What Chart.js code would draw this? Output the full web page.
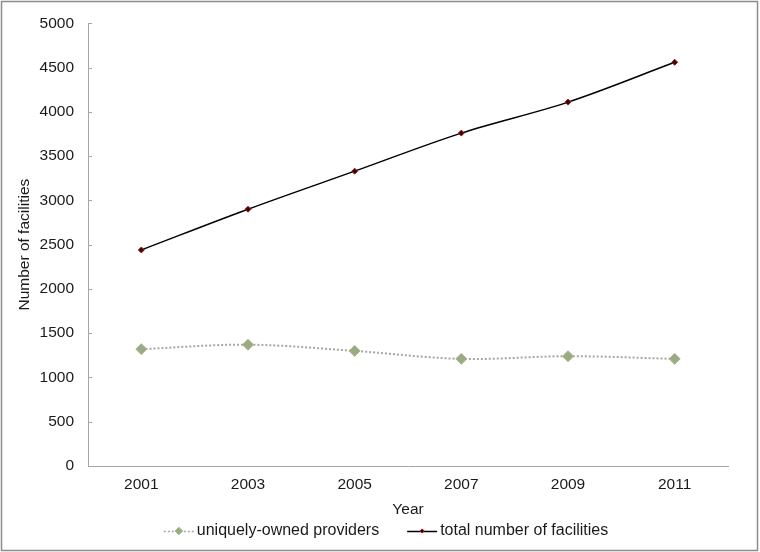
<!DOCTYPE html>
<html>
<head>
<meta charset="utf-8">
<script src="https://cdn.jsdelivr.net/npm/chart.js@4/dist/chart.umd.min.js"></script>
<style>
  html, body { margin: 0; padding: 0; background: #ffffff; }
  #wrap { width: 760px; height: 552px; position: relative; }
</style>
</head>
<body>
<div id="wrap"><canvas id="c" width="760" height="552"></canvas></div>
<script>
// ---- data ----
const years = ['2001', '2003', '2005', '2007', '2009', '2011'];
const uniquelyOwnedProviders = [1320, 1370, 1300, 1210, 1240, 1210];
const totalFacilities = [2440, 2900, 3330, 3760, 4110, 4560];
const seriesNames = ['uniquely-owned providers', 'total number of facilities'];
const xTitle = 'Year';
const yTitle = 'Number of facilities';
const yMin = 0, yMax = 5000, yStep = 500;

const FONT = '"Liberation Sans", Arial, sans-serif';
const FS = 15.5;

function diamond(ctx, x, y, r, fill, stroke, lw) {
  ctx.beginPath();
  ctx.moveTo(x, y - r);
  ctx.lineTo(x + r, y);
  ctx.lineTo(x, y + r);
  ctx.lineTo(x - r, y);
  ctx.closePath();
  ctx.fillStyle = fill;
  ctx.fill();
  if (lw) { ctx.lineWidth = lw; ctx.strokeStyle = stroke; ctx.stroke(); }
}

const decor = {
  id: 'decor',
  afterDraw(chart) {
    const ctx = chart.ctx;
    const ys = chart.scales.y;
    const area = chart.chartArea;
    ctx.save();
    // inward tick marks on the value axis
    ctx.strokeStyle = '#a6a6a6';
    ctx.lineWidth = 1;
    ys.ticks.forEach(t => {
      const py = Math.round(ys.getPixelForValue(t.value)) + 0.5;
      ctx.beginPath();
      ctx.moveTo(area.left, py);
      ctx.lineTo(area.left + 4, py);
      ctx.stroke();
    });
    // outer frame
    ctx.strokeStyle = '#8c8c8c';
    ctx.lineWidth = 1.5;
    ctx.strokeRect(1.5, 1.5, chart.width - 4, chart.height - 3);
    // legend
    ctx.font = '16px ' + FONT;
    ctx.textBaseline = 'middle';
    ctx.textAlign = 'left';
    const ly = 531;
    const symW = 30, gapSym = 3, gapItem = 28;
    const ds = chart.data.datasets;
    const widths = ds.map(d => symW + gapSym + ctx.measureText(d.label).width);
    const total = widths.reduce((a, b) => a + b, 0) + gapItem * (ds.length - 1);
    let x = 386 - total / 2;
    ds.forEach((d, i) => {
      ctx.save();
      ctx.strokeStyle = d.borderColor;
      ctx.lineWidth = d.borderDash ? 1.5 : d.borderWidth;
      ctx.setLineDash(d.borderDash || []);
      ctx.beginPath();
      ctx.moveTo(x, ly + 0.5);
      ctx.lineTo(x + symW, ly + 0.5);
      ctx.stroke();
      ctx.restore();
      diamond(ctx, x + symW / 2, ly, d.pointRadius * 0.7, d.pointBackgroundColor, d.pointBorderColor, d.pointBorderWidth);
      ctx.fillStyle = '#1a1a1a';
      ctx.fillText(d.label, x + symW + gapSym, ly);
      x += widths[i] + gapItem;
    });
    ctx.restore();
  }
};

new Chart(document.getElementById('c'), {
  type: 'line',
  data: {
    labels: years,
    datasets: [
      {
        label: seriesNames[0],
        data: uniquelyOwnedProviders,
        borderColor: '#a6a6a6',
        borderWidth: 2,
        borderDash: [2, 2],
        pointStyle: 'rectRot',
        pointRadius: 5.5,
        pointHoverRadius: 5.5,
        pointBackgroundColor: '#9aa987',
        pointBorderColor: '#a9bb7a',
        pointBorderWidth: 1,
        tension: 0.35,
        fill: false
      },
      {
        label: seriesNames[1],
        data: totalFacilities,
        borderColor: '#000000',
        borderWidth: 1.5,
        pointStyle: 'rectRot',
        pointRadius: 3,
        pointHoverRadius: 3,
        pointBackgroundColor: '#3a0505',
        pointBorderColor: '#9b1c1c',
        pointBorderWidth: 1,
        tension: 0.35,
        fill: false
      }
    ]
  },
  options: {
    responsive: false,
    animation: false,
    events: [],
    layout: { padding: { left: 0, right: 32, top: 15, bottom: 0 } },
    plugins: {
      legend: { display: false },
      tooltip: { enabled: false },
      title: { display: false }
    },
    scales: {
      x: {
        type: 'category',
        offset: true,
        grid: { display: false, drawTicks: false },
        border: { display: true, color: '#a6a6a6', width: 1 },
        ticks: {
          color: '#1a1a1a',
          font: { family: FONT, size: FS },
          padding: 9,
          maxRotation: 0
        },
        title: {
          display: true,
          text: xTitle,
          color: '#1a1a1a',
          font: { family: FONT, size: FS },
          padding: { top: 0, bottom: 33 }
        },
        afterFit(scale) { scale.height = 86; }
      },
      y: {
        min: yMin,
        max: yMax,
        grid: { display: false, drawTicks: false },
        border: { display: true, color: '#a6a6a6', width: 1 },
        ticks: {
          stepSize: yStep,
          color: '#1a1a1a',
          font: { family: FONT, size: FS },
          padding: 14,
          callback: v => String(v)
        },
        title: {
          display: true,
          text: yTitle,
          color: '#1a1a1a',
          font: { family: FONT, size: FS },
          padding: { top: 15, bottom: 0 }
        },
        afterFit(scale) { scale.width = 88; }
      }
    }
  },
  plugins: [decor]
});
</script>
</body>
</html>
